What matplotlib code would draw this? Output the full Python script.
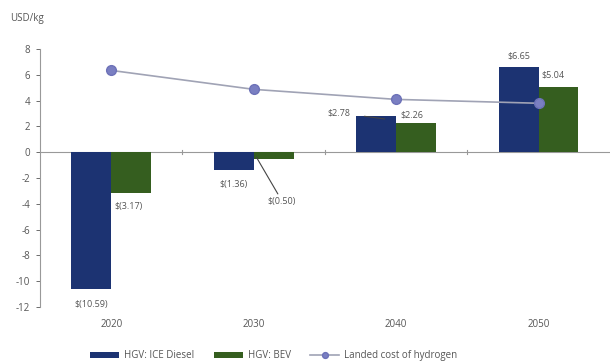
import numpy as np
import matplotlib.pyplot as plt
from matplotlib.transforms import blended_transform_factory

years = ["2020", "2030", "2040", "2050"]
ice_diesel = [-10.59, -1.36, 2.78, 6.65]
bev = [-3.17, -0.50, 2.26, 5.04]
hydrogen = [6.35, 4.88, 4.10, 3.80]
ice_labels = ["$(10.59)", "$(1.36)", "$2.78", "$6.65"]
bev_labels = ["$(3.17)", "$(0.50)", "$2.26", "$5.04"]

navy = "#1c3372"
green = "#355e1f"
txt = "#555555"

plt.rcParams['font.family'] = ['Open Sans', 'DejaVu Sans']
plt.rcParams['axes.unicode_minus'] = False

fig = plt.figure(figsize=(6.1, 3.64), dpi=100)
ax = fig.add_axes([0.0656, 0.157, 0.934, 0.708])

x = np.arange(len(years))
w = 0.28
b1 = ax.bar(x - w / 2, ice_diesel, w, color=navy, label="HGV: ICE Diesel")
b2 = ax.bar(x + w / 2, bev, w, color=green, label="HGV: BEV")
l1, = ax.plot(x, hydrogen, color="#a0a3b5", lw=1.2, marker="o", ms=7,
              mfc="#7a7fc2", mec="#6d72b8", label="Landed cost of hydrogen", zorder=3)

ax.set_xlim(-0.5, 3.5)
ax.set_ylim(-12, 8)
ax.set_yticks(range(-12, 9, 2))
ax.tick_params(axis='y', labelsize=7, colors=txt, length=3, width=0.6, pad=4)
for s in ["top", "right", "bottom"]:
    ax.spines[s].set_visible(False)
ax.spines["left"].set_color("#999999")
ax.spines["left"].set_linewidth(0.8)

# zero line with category separators
ax.axhline(0, color="#999999", lw=0.8, zorder=0)
ax.set_xticks([])
for b in [0.5, 1.5, 2.5]:
    ax.plot([b, b], [-0.15, 0.15], color="#999999", lw=0.8)

tr = blended_transform_factory(ax.transData, ax.transAxes)
for xi, yr in zip(x, years):
    ax.text(xi, -0.07, yr, transform=tr, ha="center", va="center", fontsize=7, color=txt)

fs = 6.5
# value labels
ax.text(x[0] - w / 2, ice_diesel[0] - 0.9, ice_labels[0], ha="center", va="top", fontsize=fs, color=txt)
ax.text(x[0] + w / 2 - 0.12, bev[0] - 0.7, bev_labels[0], ha="left", va="top", fontsize=fs, color=txt)
ax.text(x[1] - w / 2, ice_diesel[1] - 0.8, ice_labels[1], ha="center", va="top", fontsize=fs, color=txt)
ax.annotate(bev_labels[1], xy=(x[1] + 0.02, bev[1] + 0.1), xytext=(x[1] + 0.1, -3.8),
            ha="left", va="center", fontsize=fs, color=txt,
            arrowprops=dict(arrowstyle="-", color="#444444", lw=0.8, shrinkA=0, shrinkB=0))
ax.annotate(ice_labels[2], xy=(x[2] - 0.08, ice_diesel[2] - 0.2), xytext=(x[2] - 0.4, 3.05),
            ha="center", va="center", fontsize=fs, color=txt,
            arrowprops=dict(arrowstyle="-", color="#444444", lw=0.8, shrinkA=8, shrinkB=0))
ax.text(x[2] + 0.03, bev[2] + 0.3, bev_labels[2], ha="left", va="bottom", fontsize=fs, color=txt)
ax.text(x[3] - w / 2, ice_diesel[3] + 0.5, ice_labels[3], ha="center", va="bottom", fontsize=fs, color=txt)
ax.text(x[3] + w / 2 - 0.04, bev[3] + 0.6, bev_labels[3], ha="center", va="bottom", fontsize=fs, color=txt)

fig.text(0.016, 0.95, "USD/kg", fontsize=7, color=txt, va="center")

ax.legend(handles=[b1, b2, l1], loc="center", bbox_to_anchor=(0.41, -0.19), ncol=3,
          frameon=False, fontsize=7, handlelength=3.0, handleheight=0.5,
          columnspacing=2.0, handletextpad=0.5, labelcolor=txt, markerscale=0.6)

fig.savefig("out.png", dpi=100)
